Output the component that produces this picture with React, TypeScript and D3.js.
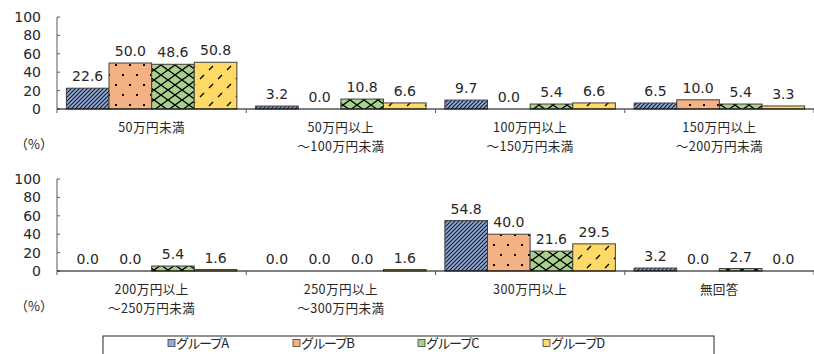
import React from "react";
import * as d3 from "d3";

const groups = ["グループA", "グループB", "グループC", "グループD"];

const topCategories = [
  ["50万円未満"],
  ["50万円以上", "～100万円未満"],
  ["100万円以上", "～150万円未満"],
  ["150万円以上", "～200万円未満"],
];
const topValues = [
  [22.6, 50.0, 48.6, 50.8],
  [3.2, 0.0, 10.8, 6.6],
  [9.7, 0.0, 5.4, 6.6],
  [6.5, 10.0, 5.4, 3.3],
];

const bottomCategories = [
  ["200万円以上", "～250万円未満"],
  ["250万円以上", "～300万円未満"],
  ["300万円以上"],
  ["無回答"],
];
const bottomValues = [
  [0.0, 0.0, 5.4, 1.6],
  [0.0, 0.0, 0.0, 1.6],
  [54.8, 40.0, 21.6, 29.5],
  [3.2, 0.0, 2.7, 0.0],
];

const yTicks = [0, 20, 40, 60, 80, 100];

const colors = ["#8faadc", "#f4b183", "#a9d18e", "#ffd966"];
const patternIds = ["patA", "patB", "patC", "patD"];

const FONT = "'DejaVu Sans', 'Noto Sans CJK JP', sans-serif";
const CJK = "'Noto Sans CJK JP', sans-serif";
const W = 814;
const H = 354;
const left = 57;
const right = 814;

type PanelProps = {
  cats: string[][];
  values: number[][];
  y0: number; // baseline pixel
  y100: number; // 100 pixel
  id: string;
};

const Panel = ({ cats, values, y0, y100, id }: PanelProps) => {
  const x = d3
    .scaleBand<number>()
    .domain(d3.range(cats.length))
    .range([left, right])
    .padding(0);
  const xi = d3
    .scaleBand<number>()
    .domain(d3.range(groups.length))
    .range([0, x.bandwidth()])
    .paddingInner(0)
    .paddingOuter(0.22);
  const y = d3.scaleLinear().domain([0, 100]).range([y0, y100]);

  return (
    <g>
      {/* y axis */}
      <line x1={left} x2={left} y1={y(0)} y2={y(100)} stroke="#595959" strokeWidth={1} />
      {yTicks.map((t) => (
        <g key={`${id}-t${t}`}>
          <line x1={left} x2={left + 3} y1={y(t)} y2={y(t)} stroke="#595959" />
          <text
            x={41}
            y={y(t)}
            dy="0.36em"
            textAnchor="end"
            fontSize={14}
            fill="#262626"
          >
            {t}
          </text>
        </g>
      ))}

      {/* bars */}
      {values.map((vals, ci) =>
        vals.map((v, gi) => {
          const bx = (x(ci) as number) + (xi(gi) as number);
          const bw = xi.bandwidth();
          const top = y(v);
          return (
            <g key={`${id}-b${ci}-${gi}`}>
              {v > 0 && (
                <>
                  <rect x={bx} y={top} width={bw} height={y(0) - top} fill={colors[gi]} />
                  <rect
                    x={bx}
                    y={top}
                    width={bw}
                    height={y(0) - top}
                    fill={`url(#${patternIds[gi]})`}
                    stroke="#404040"
                    strokeWidth={1}
                  />
                </>
              )}
              <text
                x={bx + bw / 2}
                y={top - 7}
                textAnchor="middle"
                fontSize={14}
                fill="#262626"
              >
                {v.toFixed(1)}
              </text>
            </g>
          );
        })
      )}

      {/* x axis */}
      <line x1={left} x2={right} y1={y(0)} y2={y(0)} stroke="#000" strokeWidth={1.2} />
      {d3.range(cats.length + 1).map((i) => {
        const tx = left + i * x.step();
        return (
          <line
            key={`${id}-xt${i}`}
            x1={tx}
            x2={tx}
            y1={y(0)}
            y2={y(0) + 4}
            stroke="#595959"
          />
        );
      })}
      {cats.map((lines, ci) => {
        const cx = (x(ci) as number) + x.bandwidth() / 2;
        return lines.map((ln, li) => (
          <text
            key={`${id}-c${ci}-${li}`}
            x={cx}
            y={y(0) + 23 + li * 18.6}
            textAnchor="middle"
            fontSize={12.6}
            fontFamily={CJK}
            letterSpacing={0.4}
            fill="#262626"
          >
            {ln}
          </text>
        ));
      })}
      <text x={34} y={y(0) + 40} textAnchor="middle" fontSize={13} fontFamily={CJK} fill="#262626">
        （%）
      </text>
    </g>
  );
};

export default function App() {
  const legendX = d3.scaleBand<number>().domain(d3.range(groups.length)).range([168, 668]);

  return (
    <svg
      width={W}
      height={H}
      style={{ position: "absolute", left: 0, top: 0, fontFamily: FONT }}
    >
      <defs>
        <pattern id="patA" width={4} height={4} patternUnits="userSpaceOnUse">
          <path d="M-1,1 L1,-1 M0,4 L4,0 M3,5 L5,3" stroke="#1a1a1a" strokeWidth={1.1} />
        </pattern>
        <pattern id="patB" width={14} height={20} patternUnits="userSpaceOnUse">
          <rect x={3} y={4} width={2} height={2} fill="#000" />
          <rect x={10} y={14} width={2} height={2} fill="#000" />
        </pattern>
        <pattern id="patC" width={14} height={10} patternUnits="userSpaceOnUse">
          <path d="M0,0 L14,10 M0,10 L14,0" stroke="#000" strokeWidth={1.4} />
        </pattern>
        <pattern id="patD" width={18} height={18} patternUnits="userSpaceOnUse">
          <path d="M2,7 L6,3 M11,16 L15,12" stroke="#000" strokeWidth={1.3} />
        </pattern>
      </defs>
      <rect width={W} height={H} fill="#fff" />

      <Panel cats={topCategories} values={topValues} y0={109} y100={17} id="top" />
      <Panel cats={bottomCategories} values={bottomValues} y0={271} y100={179} id="bot" />

      {/* legend */}
      <rect x={103} y={336} width={611} height={30} fill="#fff" stroke="#262626" strokeWidth={1} />
      {groups.map((g, gi) => {
        const lx = legendX(gi) as number;
        return (
          <g key={`lg${gi}`}>
            <rect x={lx} y={339.5} width={7} height={7} fill={colors[gi]} stroke="#404040" strokeWidth={0.8} />
            <text x={lx + 8} y={343} dy="0.36em" fontSize={13} fontFamily={CJK} letterSpacing={-1.5} fill="#262626">
              {g}
            </text>
          </g>
        );
      })}
    </svg>
  );
}
